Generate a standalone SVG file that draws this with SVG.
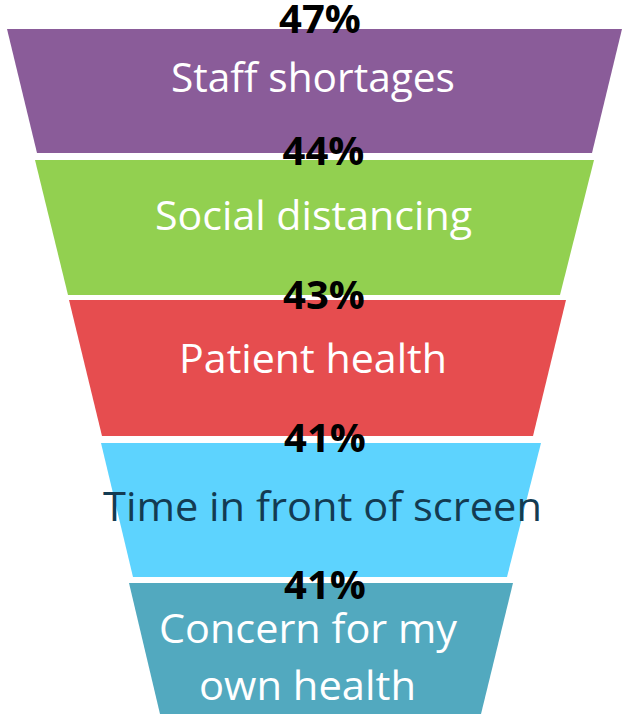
<svg xmlns="http://www.w3.org/2000/svg" width="625" height="714" viewBox="0 0 625 714">
<style>
.pct{font-family:"Open Sans","Liberation Sans",sans-serif;font-weight:bold;font-size:40px;fill:#000;text-anchor:middle}
.lbl{font-family:"Open Sans","Liberation Sans",sans-serif;font-size:41px;fill:#fff;text-anchor:middle}
.dark{fill:#133B52}
</style>
<rect width="625" height="714" fill="#fff"/>
<g id="connectors"/>
<g id="staff">
<polygon points="7,29 622,29 592,153 37,153" fill="#8A5C99"/>
<text class="lbl" x="313" y="92" textLength="284" lengthAdjust="spacingAndGlyphs">Staff shortages</text>
</g>
<g id="social">
<polygon points="35,160 594,160 560,295 68,295" fill="#92D050"/>
<text class="lbl" x="313.5" y="230" textLength="317" lengthAdjust="spacingAndGlyphs">Social distancing</text>
</g>
<g id="patient">
<polygon points="69,300 566,300 533,436 102,436" fill="#E64D4F"/>
<text class="lbl" x="313" y="373" textLength="268" lengthAdjust="spacingAndGlyphs">Patient health</text>
</g>
<g id="screen">
<polygon points="101,443 541,443 507,577 133,577" fill="#5DD3FE"/>
<text class="lbl dark" x="322.5" y="521" textLength="439" lengthAdjust="spacingAndGlyphs">Time in front of screen</text>
</g>
<g id="own">
<polygon points="129,583 513,583 481,714 160,714" fill="#52A9BF"/>
<text class="lbl" x="308" y="643" textLength="298" lengthAdjust="spacingAndGlyphs">Concern for my</text>
<text class="lbl" x="307.5" y="700" textLength="217" lengthAdjust="spacingAndGlyphs">own health</text>
</g>
<g id="percents">
<text class="pct" x="320" y="33">47%</text>
<text class="pct" x="323.5" y="165">44%</text>
<text class="pct" x="324" y="309">43%</text>
<text class="pct" x="325" y="452">41%</text>
<text class="pct" x="325" y="599">41%</text>
</g>
</svg>
